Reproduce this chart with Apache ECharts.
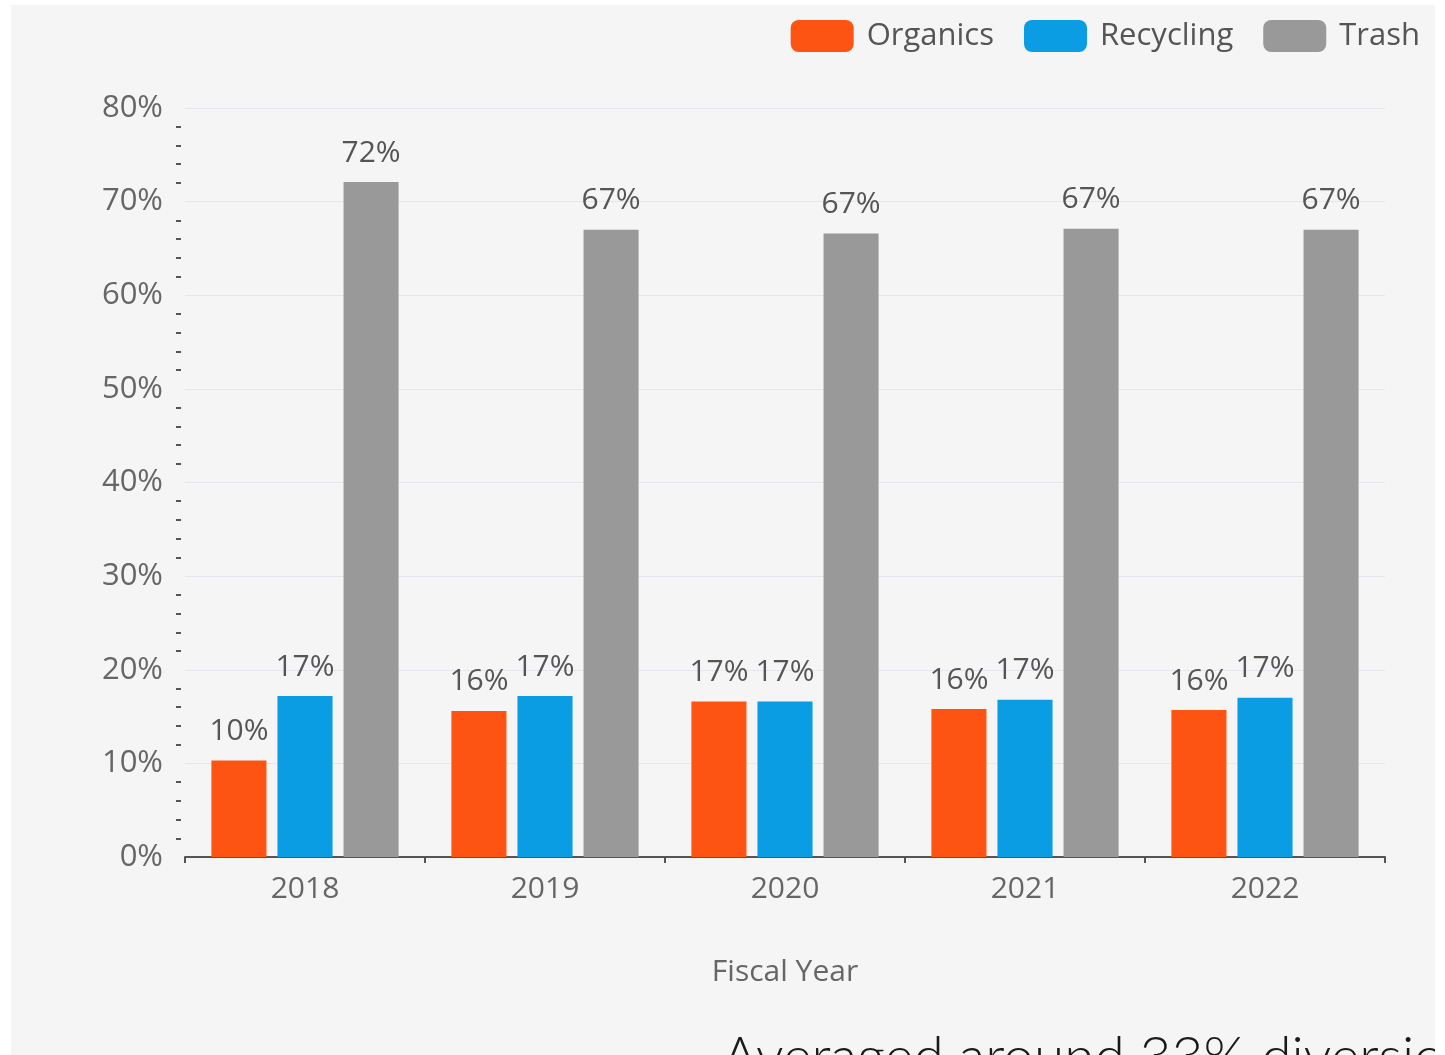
<!DOCTYPE html>
<html>
<head>
<meta charset="utf-8">
<script src="https://cdn.jsdelivr.net/npm/echarts@6/dist/echarts.min.js"></script>
<style>
    html, body {margin: 0; padding: 0; background: #ffffff;}
    #chart {position: absolute; left: 11px; top: 5px; width: 1424px; height: 1050px;}
</style>
</head>
<body>
<div id="chart"></div>
<script>
// fiscal years on the x axis
const years = ['2018', '2019', '2020', '2021', '2022'];
// share of waste stream, percent
const organics = [10.3, 15.6, 16.6, 15.8, 15.7];
const recycling = [17.2, 17.2, 16.6, 16.8, 17.0];
const trash = [72.1, 67.0, 66.6, 67.1, 67.0];
// y axis
const yMax = 80;
const yStep = 10;

const seriesNames = ['Organics', 'Recycling', 'Trash'];
const seriesColors = ['#fd5414', '#0b9de4', '#999999'];
const seriesData = [organics, recycling, trash];

const fontFamily = '"Open Sans", "Noto Sans", sans-serif';

var chartDom = document.getElementById('chart');
var myChart = echarts.init(chartDom);

var series = seriesNames.map((name, i) => {
    return {
        name: name,
        type: 'bar',
        data: seriesData[i],
        barGap: '20%',
        barCategoryGap: '22%',
        itemStyle: {color: seriesColors[i]},
        label: {
            show: true,
            position: 'top',
            distance: 14,
            color: '#555',
            fontSize: 30,
            fontFamily: fontFamily,
            formatter: p => Math.round(p.value) + '%'
        }
    };
});

var option = {
    backgroundColor: '#f5f5f5',
    textStyle: {fontFamily: fontFamily},
    legend: {
        data: seriesNames,
        right: 10,
        top: 10,
        itemWidth: 63,
        itemHeight: 32,
        itemGap: 30,
        textStyle: {
            fontSize: 31,
            color: '#555',
            fontFamily: fontFamily,
            padding: [0, 0, 0, 8]
        }
    },
    grid: {
        left: 174,
        right: 50,
        top: 103,
        bottom: 198
    },
    xAxis: {
        type: 'category',
        data: years,
        name: 'Fiscal Year',
        nameLocation: 'middle',
        nameGap: 100,
        nameTextStyle: {fontSize: 30, color: '#666', fontFamily: fontFamily},
        axisLine: {lineStyle: {color: '#555', width: 2}},
        axisTick: {show: true, length: 6, lineStyle: {color: '#555', width: 2}},
        axisLabel: {fontSize: 30, color: '#666', margin: 17, fontFamily: fontFamily}
    },
    yAxis: {
        type: 'value',
        min: 0,
        max: yMax,
        interval: yStep,
        offset: 4,
        axisLine: {show: false},
        axisTick: {show: false},
        minorTick: {show: true, splitNumber: 5, length: 5, lineStyle: {color: '#555', width: 2}},
        axisLabel: {fontSize: 31, color: '#666', margin: 18, fontFamily: fontFamily, formatter: '{value}%'},
        splitLine: {lineStyle: {color: '#e6e6ee', width: 1}}
    },
    graphic: [{
        type: 'text',
        left: 711,
        top: 1026,
        silent: true,
        style: {
            text: 'Averaged around 33% diversion',
            fill: '#1a1a1a',
            fontSize: 55,
            fontWeight: 300,
            fontFamily: 'Lato, sans-serif'
        }
    }],
    series: series
};

myChart.setOption(option);
</script>
</body>
</html>
